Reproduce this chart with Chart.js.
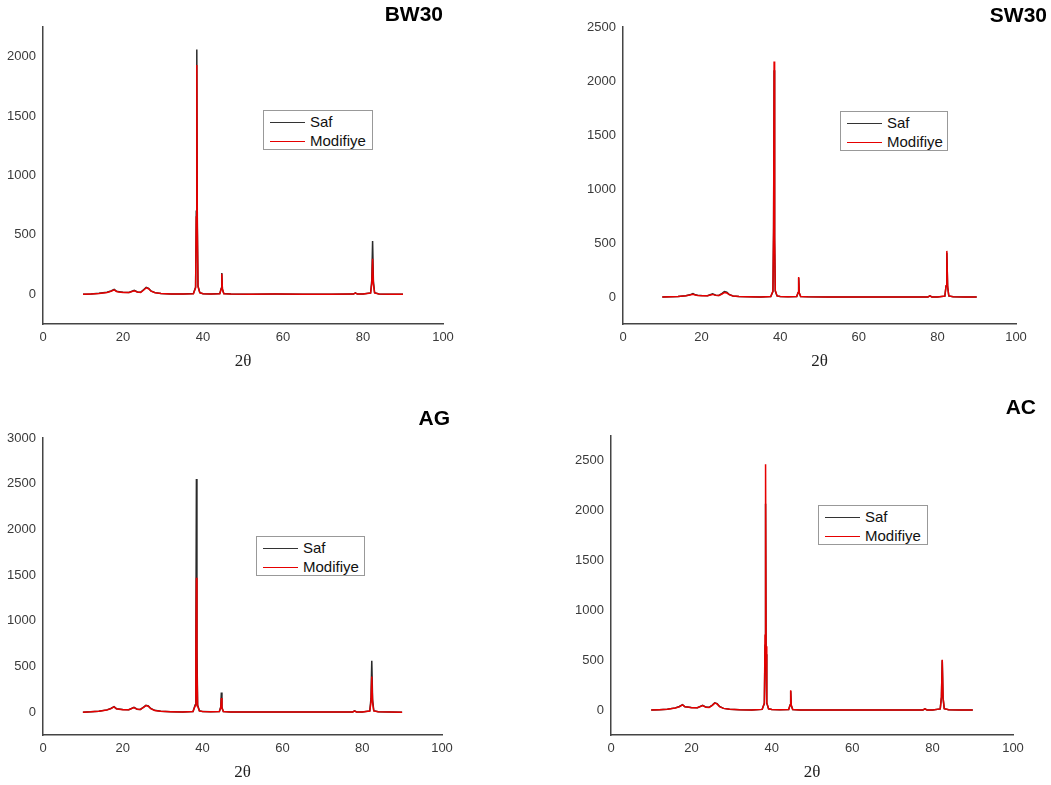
<!DOCTYPE html>
<html>
<head>
<meta charset="utf-8">
<script src="https://cdn.jsdelivr.net/npm/chart.js@4/dist/chart.umd.min.js"></script>
<style>
  body { margin: 0; background: #fff; }
  #wrap { position: relative; width: 1051px; height: 785px; overflow: hidden; font-family: "Liberation Sans", Arial, sans-serif; }
  canvas { position: absolute; }
  .title { position: absolute; font-weight: bold; font-size: 21px; line-height: 24px; color: #000; }
  .legend { position: absolute; box-sizing: border-box; border: 1px solid #999; background: #fff; }
  .row { position: absolute; left: 0; height: 19px; line-height: 19px; font-size: 15px; color: #111; white-space: nowrap; padding-left: 46px; }
  .row1 { top: 1px; }
  .row2 { top: 20px; }
  .ln { position: absolute; left: 6px; top: 10px; width: 35px; height: 1px; }
  .k { background: #333; }
  .r { background: #e60000; }
</style>
</head>
<body>
<div id="wrap">
  <canvas id="c1" width="460" height="380" style="left:0;top:0"></canvas>
  <canvas id="c2" width="471" height="380" style="left:580px;top:0"></canvas>
  <canvas id="c3" width="460" height="385" style="left:0;top:400px"></canvas>
  <canvas id="c4" width="491" height="385" style="left:560px;top:400px"></canvas>

  <div class="title" style="right:608px;top:2px">BW30</div>
  <div class="title" style="right:4px;top:3px">SW30</div>
  <div class="title" style="right:601px;top:406px">AG</div>
  <div class="title" style="right:15px;top:395px">AC</div>

  <div class="legend" style="left:263px;top:110px;width:110px;height:40px">
    <div class="row row1"><span class="ln k"></span>Saf</div>
    <div class="row row2"><span class="ln r"></span>Modifiye</div>
  </div>
  <div class="legend" style="left:840px;top:111px;width:108px;height:40px">
    <div class="row row1"><span class="ln k"></span>Saf</div>
    <div class="row row2"><span class="ln r"></span>Modifiye</div>
  </div>
  <div class="legend" style="left:256px;top:536px;width:109px;height:40px">
    <div class="row row1"><span class="ln k"></span>Saf</div>
    <div class="row row2"><span class="ln r"></span>Modifiye</div>
  </div>
  <div class="legend" style="left:818px;top:505px;width:110px;height:40px">
    <div class="row row1"><span class="ln k"></span>Saf</div>
    <div class="row row2"><span class="ln r"></span>Modifiye</div>
  </div>
</div>

<script>
// 2θ positions shared by all patterns
const theta = [
  10, 12, 14, 16, 17, 17.8, 18.4, 19, 20, 21.5,
  22.8, 23.6, 24.4, 25.2, 25.8, 26.4, 27, 28, 29.5, 32,
  35, 37.6, 38.15, 38.32, 38.45, 38.58, 38.75, 39.2, 40, 42,
  44.2, 44.55, 44.7, 44.85, 45.2, 47, 52, 58, 65, 72,
  77.6, 78.1, 78.6, 80, 81.9, 82.2, 82.4, 82.6, 82.9, 84,
  87, 90
];

// intensities
const bw30Saf = [
  0, 3, 8, 18, 28, 42, 25, 22, 17, 16,
  34, 20, 17, 40, 58, 50, 28, 14, 6, 3,
  2, 6, 60, 700, 2060, 600, 70, 14, 5, 3,
  6, 50, 180, 45, 6, 2, 1, 2, 1, 1,
  2, 12, 2, 2, 12, 120, 448, 110, 14, 3,
  1, 0
];
const bw30Mod = [
  0, 3, 7, 16, 26, 38, 23, 20, 16, 15,
  30, 19, 16, 36, 55, 47, 26, 13, 6, 3,
  2, 5, 55, 650, 1930, 560, 65, 13, 5, 3,
  5, 45, 172, 42, 5, 2, 1, 2, 1, 1,
  2, 10, 2, 2, 10, 90, 300, 85, 12, 3,
  1, 0
];
const sw30Saf = [
  0, 2, 5, 12, 20, 32, 20, 17, 13, 12,
  30, 16, 14, 34, 50, 44, 24, 10, 4, 2,
  1, 4, 50, 600, 2100, 520, 55, 10, 4, 2,
  4, 40, 175, 38, 4, 2, 1, 1, 1, 1,
  1, 10, 1, 1, 8, 100, 410, 95, 10, 2,
  1, 0
];
const sw30Mod = [
  0, 2, 5, 11, 18, 26, 18, 15, 12, 11,
  24, 15, 13, 28, 42, 38, 22, 10, 4, 2,
  1, 4, 55, 650, 2180, 560, 60, 10, 4, 2,
  4, 42, 186, 40, 4, 2, 1, 1, 1, 1,
  1, 10, 1, 1, 9, 105, 427, 100, 10, 2,
  1, 0
];
const agSaf = [
  0, 4, 10, 25, 40, 60, 38, 35, 28, 27,
  52, 32, 30, 55, 75, 68, 40, 20, 9, 5,
  3, 8, 80, 800, 2550, 700, 80, 15, 6, 4,
  6, 60, 215, 55, 6, 3, 2, 2, 1, 1,
  2, 14, 2, 2, 14, 150, 562, 140, 16, 4,
  2, 0
];
const agMod = [
  0, 4, 10, 24, 38, 58, 36, 33, 27, 26,
  50, 31, 29, 52, 72, 65, 38, 19, 9, 5,
  3, 8, 70, 600, 1470, 520, 65, 14, 6, 4,
  6, 48, 155, 45, 6, 3, 2, 2, 1, 1,
  2, 12, 2, 2, 12, 110, 390, 105, 14, 4,
  2, 0
];
const acSaf = [
  0, 4, 9, 22, 36, 55, 34, 31, 25, 24,
  48, 30, 28, 50, 72, 64, 36, 17, 8, 4,
  2, 7, 65, 650, 2070, 560, 70, 13, 5, 3,
  5, 50, 190, 46, 5, 2, 1, 2, 1, 1,
  2, 12, 2, 2, 12, 130, 500, 120, 14, 3,
  1, 0
];
const acMod = [
  0, 4, 9, 21, 34, 52, 32, 30, 24, 23,
  46, 29, 27, 48, 70, 62, 35, 17, 8, 4,
  2, 7, 70, 750, 2467, 640, 75, 13, 5, 3,
  5, 52, 198, 48, 5, 2, 1, 2, 1, 1,
  2, 12, 2, 2, 12, 135, 506, 125, 14, 3,
  1, 0
];

const seriesNames = ["Saf", "Modifiye"];
const xTicks = [0, 20, 40, 60, 80, 100];
const bw30Ticks = [0, 500, 1000, 1500, 2000];
const sw30Ticks = [0, 500, 1000, 1500, 2000, 2500];
const agTicks = [0, 500, 1000, 1500, 2000, 2500, 3000];
const acTicks = [0, 500, 1000, 1500, 2000, 2500];

const tickFont = { family: "'Liberation Sans', Arial, sans-serif", size: 13 };
const tickColor = "#3a3a3a";

function pts(vals) {
  return theta.map((x, i) => ({ x, y: vals[i] }));
}

function makePanel(id, saf, mod, yTicks, yMax, box) {
  new Chart(document.getElementById(id), {
    type: "line",
    data: {
      datasets: [
        { label: seriesNames[0], data: pts(saf), borderColor: "#2a2a2a", borderWidth: 1.5, order: 1 },
        { label: seriesNames[1], data: pts(mod), borderColor: "#e60000", borderWidth: 1.5, order: 0 }
      ]
    },
    options: {
      responsive: false,
      animation: false,
      elements: { point: { radius: 0 }, line: { tension: 0 } },
      layout: { padding: { left: 0, top: box.top, right: box.right, bottom: 0 } },
      plugins: { legend: { display: false }, tooltip: { enabled: false } },
      scales: {
        x: {
          type: "linear",
          min: 0, max: 100,
          grid: { display: false, drawTicks: false },
          border: { display: true, color: "#444", width: 1.5 },
          afterBuildTicks: s => { s.ticks = xTicks.map(v => ({ value: v })); },
          ticks: { font: tickFont, color: tickColor, padding: 6, maxRotation: 0, callback: v => String(v) },
          title: { display: true, text: "2θ", font: { family: "'Liberation Serif', 'Times New Roman', serif", size: 17 }, color: "#222", padding: { top: 0, bottom: box.titlePad } },
          afterFit: s => { s.height = box.xh; s.paddingLeft = 0; s.paddingRight = 0; }
        },
        y: {
          min: -250, max: yMax,
          grid: { display: false, drawTicks: false },
          border: { display: true, color: "#444", width: 1.5 },
          afterBuildTicks: s => { s.ticks = yTicks.map(v => ({ value: v })); },
          ticks: { font: tickFont, color: tickColor, padding: 7, callback: v => String(v) },
          afterFit: s => { s.width = box.yw; s.paddingTop = 0; s.paddingBottom = 0; }
        }
      }
    }
  });
}

makePanel("c1", bw30Saf, bw30Mod, bw30Ticks, 2250, { top: 27, right: 17, yw: 43, xh: 56, titlePad: 8 });
makePanel("c2", sw30Saf, sw30Mod, sw30Ticks, 2500, { top: 27, right: 35, yw: 43, xh: 56, titlePad: 8 });
makePanel("c3", agSaf, agMod, agTicks, 3000, { top: 38, right: 18, yw: 43, xh: 50, titlePad: 2 });
makePanel("c4", acSaf, acMod, acTicks, 2750, { top: 36, right: 38, yw: 51, xh: 50, titlePad: 2 });
</script>
</body>
</html>
